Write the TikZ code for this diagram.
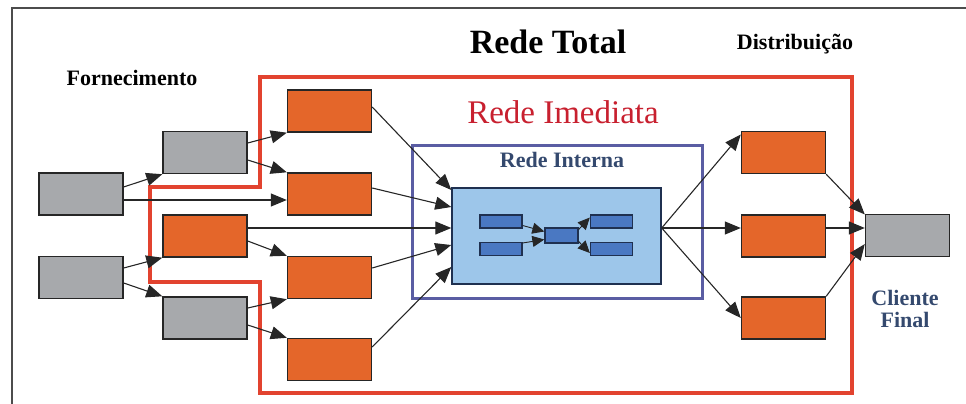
\documentclass[tikz,border=0pt]{standalone}
\usepackage{fontspec}
\setmainfont{Liberation Serif}
\usetikzlibrary{arrows.meta,calc}
\definecolor{orangebox}{HTML}{E4662A}
\definecolor{graybox}{HTML}{A7A9AC}
\definecolor{redline}{HTML}{E2432F}
\definecolor{redtext}{HTML}{C8202F}
\definecolor{frameblue}{HTML}{5A5DA3}
\definecolor{lightblue}{HTML}{9DC6EA}
\definecolor{midblue}{HTML}{4A78C2}
\definecolor{navy}{HTML}{1F3050}
\definecolor{labelblue}{HTML}{34496E}
\tikzset{
  box/.style={draw=black!85, line width=1.4pt, minimum width=84pt, minimum height=42pt, inner sep=0pt},
  obox/.style={box, fill=orangebox},
  gbox/.style={box, fill=graybox},
  sbox/.style={draw=navy, line width=1.3pt, fill=midblue, inner sep=0pt, minimum width=42pt, minimum height=13pt},
  conn/.style={draw=black!85, line width=1.1pt, -{Triangle[length=16pt,width=13pt]}},
  iconn/.style={draw=black!85, line width=0.9pt, -{Triangle[length=12pt,width=11pt]}},
  lbl/.style={font=\fontsize{22}{24}\selectfont\bfseries, inner sep=0pt, anchor=base},
}
\begin{document}
\begin{tikzpicture}[x=1pt,y=-1pt]
\useasboundingbox (0,0) rectangle (966,404);
% outer frame
\draw[line width=2.5pt, black!70] (12,406) -- (12,8) -- (968,8);
% red boundary (Rede Imediata)
\draw[redline, line width=3.6pt, line join=miter]
  (260,77) -- (852,77) -- (852,393) -- (260,393) -- (260,282) -- (150,282) -- (150,187) -- (260,187) -- cycle;
% Rede Interna frame
\draw[frameblue, line width=3pt] (412,145) rectangle (702,298);
% light blue box
\node[draw=navy, line width=1.4pt, fill=lightblue, minimum width=209pt, minimum height=96pt, inner sep=0pt] (LB) at (556.5,236) {};
% inner rects
\node[sbox] (a1) at (501,221.5) {};
\node[sbox] (a2) at (501,249) {};
\node[sbox, minimum width=33pt, minimum height=15pt] (m) at (561.5,235.5) {};
\node[sbox] (b1) at (611.5,221.5) {};
\node[sbox] (b2) at (611.5,249) {};
% boxes
\node[gbox] (G1) at (81,194) {};
\node[gbox] (G2) at (81,277.5) {};
\node[gbox] (G3) at (205,152.5) {};
\node[gbox] (G4) at (205,318) {};
\node[obox] (Om) at (205,236) {};
\node[obox] (O1) at (329.5,111) {};
\node[obox] (O2) at (329.5,194) {};
\node[obox] (O3) at (329.5,277.5) {};
\node[obox] (O4) at (329.5,359.5) {};
\node[obox] (R1) at (783.5,152.5) {};
\node[obox] (R2) at (783.5,236) {};
\node[obox] (R3) at (783.5,318) {};
\node[gbox] (C) at (907.5,235.5) {};
% connectors left
\draw[conn] ($(G1.east)+(0,-7)$) -- (G3.south west);
\draw[conn] ($(G1.east)+(0,6)$) -- ($(O2.west)+(0,6)$);
\draw[conn] ($(G3.east)+(0,-9.5)$) -- (O1.south west);
\draw[conn] ($(G3.east)+(0,7.5)$) -- (O2.north west);
\draw[conn] ($(G2.east)+(0,-9.5)$) -- (Om.south west);
\draw[conn] ($(G2.east)+(0,5.5)$) -- (G4.north west);
\draw[conn] ($(Om.east)+(0,-8)$) -- ($(LB.west)+(0,-8)$);
\draw[conn] ($(Om.east)+(0,5)$) -- (O3.north west);
\draw[conn] ($(G4.east)+(0,-10)$) -- (O3.south west);
\draw[conn] ($(G4.east)+(0,7)$) -- (O4.north west);
% into light blue box
\draw[conn] ($(O1.east)+(0,-4)$) -- ($(LB.west)+(0,-46)$);
\draw[conn] ($(O2.east)+(0,-6)$) -- ($(LB.west)+(0,-29)$);
\draw[conn] ($(O3.east)+(0,-9.5)$) -- ($(LB.west)+(0,9)$);
\draw[conn] ($(O4.east)+(0,-12.5)$) -- ($(LB.west)+(0,31)$);
% out of light blue box
\coordinate (LBo) at ($(LB.east)+(0,-8)$);
\draw[conn] (LBo) -- ($(R1.west)+(0,-18)$);
\draw[conn] (LBo) -- ($(R2.west)+(0,-8)$);
\draw[conn] (LBo) -- (R3.west);
\draw[conn] (R1.south east) -- ($(C.west)+(0,-21)$);
\draw[conn] ($(R2.east)+(0,-8)$) -- ($(C.west)+(0,-7.5)$);
\draw[conn] (R3.north east) -- ($(C.west)+(0,8.5)$);
% inner arrows
\draw[iconn] ($(a1.east)+(0,4)$) -- ($(m.west)+(0,-4)$);
\draw[iconn] ($(a2.east)+(0,-6)$) -- ($(m.west)+(0,4)$);
\draw[iconn] ($(m.east)+(0,-6)$) -- ($(b1.west)+(0,-4)$);
\draw[iconn] ($(m.east)+(0,6)$) -- ($(b2.west)+(0,4)$);
% labels
\node[font=\fontsize{34}{40}\selectfont\bfseries, inner sep=0pt, anchor=base] (tTotal) at (548,53) {Rede Total};
\node[font=\fontsize{33}{40}\selectfont, text=redtext, inner sep=0pt, anchor=base] (tImed) at (563,123) {Rede Imediata};
\node[lbl] (tForn) at (132,85) {Fornecimento};
\node[lbl] (tDist) at (795,50) {Distribuição};
\node[lbl, text=labelblue] (tInt) at (562,167) {Rede Interna};
\node[lbl, text=labelblue] (tCli) at (905,305) {Cliente};
\node[lbl, text=labelblue] (tFin) at (905,327) {Final};
\end{tikzpicture}
\end{document}
